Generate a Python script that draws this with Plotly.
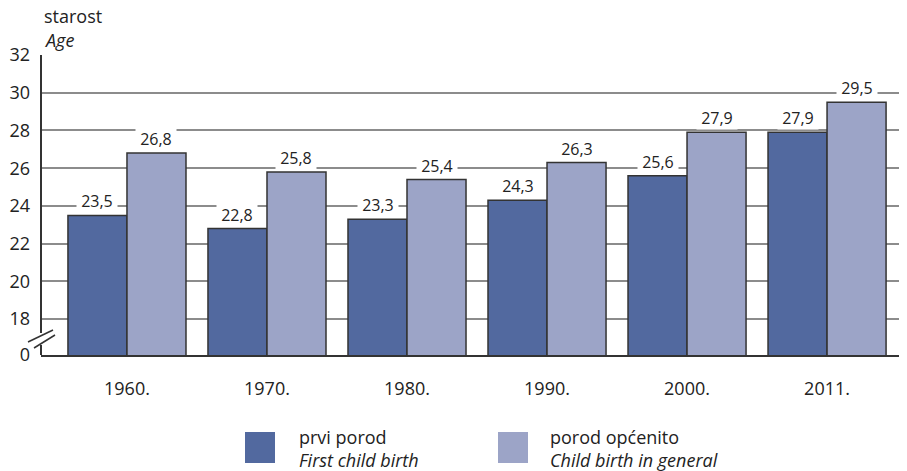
import plotly.graph_objects as go

# data
years = ["1960.", "1970.", "1980.", "1990.", "2000.", "2011."]
first_birth = [23.5, 22.8, 23.3, 24.3, 25.6, 27.9]
birth_general = [26.8, 25.8, 25.4, 26.3, 27.9, 29.5]
y_tickvals = [16.1, 18, 20, 22, 24, 26, 28, 30, 32]
y_ticktext = ["0", "18", "20", "22", "24", "26", "28", "30", "32"]

dark = "#52699f"
light = "#9ca4c7"
edge = "#333333"
font = "Open Sans"

# the page body has an 8px margin, so the figure is drawn 8px smaller
OFF = 8
W, H = 907 - OFF, 471 - OFF
# plot area in reference pixels: x 41..907, y 55..355
L, R, T, B = 41, 907, 55, 355


def px(x):
    return (x - L) / (R - L)


def py(y):
    return (B - y) / (B - T)


fig = go.Figure()
fig.add_trace(go.Bar(x=years, y=first_birth, name="prvi porod",
                     marker=dict(color=dark, line=dict(color=edge, width=1.5))))
fig.add_trace(go.Bar(x=years, y=birth_general, name="porod općenito",
                     marker=dict(color=light, line=dict(color=edge, width=1.5))))


def fmt(v):
    return "&nbsp;" + f"{v:.1f}".replace(".", ",") + "&nbsp;"


# value labels with white background (cuts the gridlines)
for i in range(len(years)):
    for vals, shift in ((first_birth, -29.5), (birth_general, 29.5)):
        fig.add_annotation(x=i, y=vals[i], xshift=shift, yshift=2, yanchor="bottom",
                           text=fmt(vals[i]), showarrow=False, bgcolor="white",
                           borderpad=0, font=dict(size=16, color="#222"))

shapes = []
# y axis line with break
for y0, y1 in ((T, 333), (345, B)):
    shapes.append(dict(type="line", xref="paper", yref="paper", x0=0, x1=0,
                       y0=py(y0), y1=py(y1), line=dict(color=edge, width=2)))
for (x0, y0, x1, y1) in ((28, 342, 53, 330), (34, 348, 55, 335)):
    shapes.append(dict(type="line", xref="paper", yref="paper", x0=px(x0), x1=px(x1),
                       y0=py(y0), y1=py(y1), line=dict(color=edge, width=1.5)))
# legend squares
for x0, c in ((245, dark), (498, light)):
    shapes.append(dict(type="rect", xref="paper", yref="paper", x0=px(x0), x1=px(x0 + 30),
                       y0=py(463), y1=py(432), fillcolor=c, line=dict(width=0)))

annotations = [
    dict(x=px(42), y=py(16), text="starost"),
    dict(x=px(42), y=py(40), text="<i>Age</i>"),
    dict(x=px(297), y=py(437), text="prvi porod"),
    dict(x=px(297), y=py(460), text="<i>First child birth</i>"),
    dict(x=px(548), y=py(437), text="porod općenito"),
    dict(x=px(548), y=py(460), text="<i>Child birth in general</i>"),
]
for a in annotations:
    fig.add_annotation(xref="paper", yref="paper", showarrow=False, yanchor="middle",
                       xanchor="left", font=dict(size=18, color="#222"), **a)

fig.update_layout(
    width=W, height=H,
    margin=dict(l=L - OFF, r=0, t=T - OFF, b=H - (B - OFF)),
    plot_bgcolor="white", paper_bgcolor="white",
    font=dict(family=font, size=18, color="#222"),
    barmode="group", bargap=0.157, bargroupgap=0,
    showlegend=False,
    shapes=shapes,
)
fig.update_xaxes(type="category", range=[-0.614, 5.571], showline=True, linecolor=edge,
                 linewidth=2, ticks="", ticklabelstandoff=16, showgrid=False,
                 tickfont=dict(size=18))
fig.update_yaxes(range=[16.1, 32], tickvals=y_tickvals, ticktext=y_ticktext,
                 showgrid=True, gridcolor="#8c8c8c", gridwidth=1.5, zeroline=False,
                 showline=False, ticks="", ticklabelstandoff=10, tickfont=dict(size=18))

fig.write_html("out.html")
